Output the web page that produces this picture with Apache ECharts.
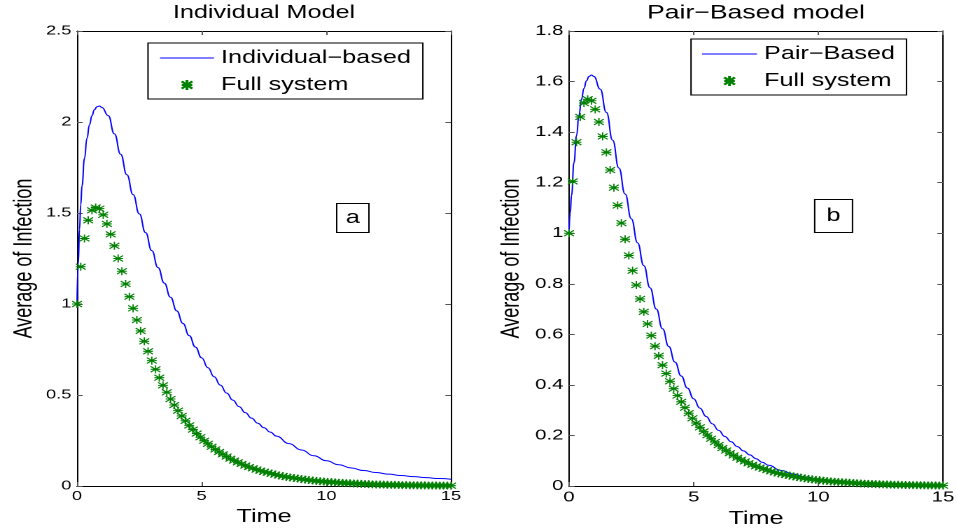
<!DOCTYPE html>
<html>
<head>
<meta charset="utf-8">
<title>Average of Infection</title>
<script src="https://cdn.jsdelivr.net/npm/echarts@6/dist/echarts.min.js"></script>
<style>
  html, body { margin: 0; background: #ffffff; }
  /* the figure is stretched sideways, so draw narrow and widen it */
  #chart { width: 684px; height: 531px; transform: scaleX(1.4); transform-origin: 0 0; }
</style>
</head>
<body>
<div id="chart"></div>
<script>
// full system (same ODE output in both panels)
const fullTime = [
  0, 0.15, 0.3, 0.45, 0.6, 0.75, 0.9, 1.05, 1.2, 1.35,
  1.5, 1.65, 1.8, 1.95, 2.1, 2.25, 2.4, 2.55, 2.7, 2.85,
  3, 3.15, 3.3, 3.45, 3.6, 3.75, 3.9, 4.05, 4.2, 4.35,
  4.5, 4.65, 4.8, 4.95, 5.1, 5.25, 5.4, 5.55, 5.7, 5.85,
  6, 6.15, 6.3, 6.45, 6.6, 6.75, 6.9, 7.05, 7.2, 7.35,
  7.5, 7.65, 7.8, 7.95, 8.1, 8.25, 8.4, 8.55, 8.7, 8.85,
  9, 9.15, 9.3, 9.45, 9.6, 9.75, 9.9, 10.05, 10.2, 10.35,
  10.5, 10.65, 10.8, 10.95, 11.1, 11.25, 11.4, 11.55, 11.7, 11.85,
  12, 12.15, 12.3, 12.45, 12.6, 12.75, 12.9, 13.05, 13.2, 13.35,
  13.5, 13.65, 13.8, 13.95, 14.1, 14.25, 14.4, 14.55, 14.7, 14.85,
  15
];
const fullValue = [
  1.000, 1.205, 1.360, 1.460, 1.515, 1.530, 1.524, 1.490, 1.440, 1.383,
  1.320, 1.250, 1.180, 1.110, 1.040, 0.976, 0.912, 0.852, 0.795, 0.740,
  0.689, 0.641, 0.595, 0.553, 0.515, 0.478, 0.445, 0.414, 0.385, 0.358,
  0.333, 0.310, 0.288, 0.268, 0.249, 0.232, 0.216, 0.201, 0.187, 0.174,
  0.162, 0.150, 0.140, 0.130, 0.121, 0.112, 0.104, 0.097, 0.090, 0.084,
  0.078, 0.073, 0.068, 0.063, 0.058, 0.054, 0.050, 0.047, 0.044, 0.041,
  0.038, 0.035, 0.033, 0.030, 0.028, 0.026, 0.024, 0.023, 0.021, 0.020,
  0.018, 0.017, 0.016, 0.015, 0.014, 0.013, 0.012, 0.011, 0.010, 0.009,
  0.0085, 0.008, 0.0075, 0.007, 0.0065, 0.006, 0.0055, 0.005, 0.0047, 0.0044,
  0.004, 0.0037, 0.0035, 0.0032, 0.003, 0.0028, 0.0026, 0.0024, 0.0022, 0.002,
  0.0019
];

// individual-based model
const indTime = [
  0, 0.05, 0.1, 0.15, 0.2, 0.3, 0.4, 0.5, 0.6, 0.7, 0.8, 0.9,
  1.0, 1.25, 1.5, 1.75, 2.0, 2.25, 2.5, 2.75, 3.0, 3.25, 3.5, 3.75,
  4.0, 4.25, 4.5, 4.75, 5.0, 5.25, 5.5, 5.75, 6.0, 6.25, 6.5, 6.75,
  7.0, 7.25, 7.5, 7.75, 8.0, 8.5, 9.0, 9.5, 10.0, 10.5, 11.0, 11.5,
  12.0, 12.5, 13.0, 13.5, 14.0, 14.5, 15.0
];
const indValue = [
  1.0, 1.22, 1.41, 1.545, 1.65, 1.80, 1.91, 1.985, 2.035, 2.068, 2.084, 2.088,
  2.080, 2.035, 1.935, 1.823, 1.71, 1.601, 1.495, 1.392, 1.293, 1.2, 1.115, 1.037,
  0.962, 0.893, 0.826, 0.763, 0.704, 0.65, 0.6, 0.554, 0.511, 0.472, 0.436, 0.403,
  0.373, 0.345, 0.32, 0.296, 0.274, 0.233, 0.198, 0.166, 0.139, 0.117, 0.099, 0.085,
  0.074, 0.065, 0.0575, 0.0515, 0.046, 0.041, 0.037
];

// pair-based model
const pairTime = [
  0, 0.05, 0.1, 0.2, 0.3, 0.4, 0.5, 0.6, 0.7, 0.8, 0.9,
  1.0, 1.25, 1.5, 1.75, 2.0, 2.25, 2.5, 2.75, 3.0, 3.25, 3.5, 3.75,
  4.0, 4.25, 4.5, 4.75, 5.0, 5.25, 5.5, 5.75, 6.0, 6.25, 6.5, 6.75,
  7.0, 7.25, 7.5, 7.75, 8.0, 8.5, 9.0, 9.5, 10.0, 10.5, 11.0, 11.5,
  12.0, 12.5, 13.0, 13.5, 14.0, 14.5, 15.0
];
const pairValue = [
  1.0, 1.08, 1.15, 1.28, 1.385, 1.467, 1.53, 1.573, 1.603, 1.62, 1.626,
  1.62, 1.57, 1.478, 1.368, 1.258, 1.155, 1.057, 0.962, 0.872, 0.784, 0.700, 0.622,
  0.552, 0.49, 0.435, 0.387, 0.345, 0.308, 0.275, 0.246, 0.22, 0.196, 0.175, 0.156,
  0.139, 0.123, 0.108, 0.094, 0.082, 0.062, 0.047, 0.036, 0.028, 0.022, 0.017, 0.0135,
  0.0107, 0.0085, 0.0068, 0.0054, 0.0043, 0.0034, 0.0027
];

const timeTicks = { min: 0, max: 15, interval: 5 };
const leftY = { min: 0, max: 2.5, interval: 0.5 };
const rightY = { min: 0, max: 1.8, interval: 0.2 };

const SX = 1.4;
const px = (v) => v / SX;   // picture x -> chart x
const FONT = 'Liberation Sans, Arial, sans-serif';
const STAR = 'path://M0,-5L0,5M-3.8,0L3.8,0M-3.8,-3.6L3.8,3.6M-3.8,3.6L3.8,-3.6';
const DASH = 'path://M0,0H40V1H0Z';

function zip(xs, ys) {
  return xs.map((x, i) => [x, ys[i]]);
}

function xAxes(gridIndex, fontSize) {
  const common = {
    gridIndex: gridIndex,
    type: 'value',
    ...timeTicks,
    splitLine: { show: false },
    axisLine: { onZero: false, lineStyle: { color: '#000', width: 1 } },
    axisTick: { inside: true, length: 4, lineStyle: { color: '#555' } }
  };
  return [
    {
      ...common,
      position: 'bottom',
      name: 'Time',
      nameLocation: 'middle',
      nameGap: 19,
      nameTextStyle: { fontSize: 18, color: '#000', fontFamily: FONT },
      axisLabel: { fontSize: fontSize, color: '#000', margin: 4, fontFamily: FONT }
    },
    { ...common, position: 'top', axisLabel: { show: false } }
  ];
}

function yAxes(gridIndex, range, fontSize, nameGap) {
  const common = {
    gridIndex: gridIndex,
    type: 'value',
    ...range,
    splitLine: { show: false },
    axisLine: { show: true, onZero: false, lineStyle: { color: '#000', width: 1 } },
    axisTick: { show: true, inside: true, length: 4, lineStyle: { color: '#555' } }
  };
  return [
    {
      ...common,
      position: 'left',
      name: 'Average of Infection',
      nameLocation: 'middle',
      nameGap: nameGap,
      nameTextStyle: { fontSize: 18, color: '#000', fontFamily: FONT },
      axisLabel: { fontSize: fontSize, color: '#000', margin: 4, fontFamily: FONT }
    },
    { ...common, position: 'right', axisLabel: { show: false } }
  ];
}

function lineSeries(name, axis, data) {
  return {
    name: name,
    type: 'line',
    xAxisIndex: axis,
    yAxisIndex: axis,
    data: data,
    symbol: 'none',
    smooth: true,
    smoothMonotone: 'x',
    lineStyle: { color: '#0000ff', width: 1 },
    itemStyle: { color: '#0000ff' },
    z: 2
  };
}

function starSeries(axis) {
  return {
    name: 'Full system',
    type: 'scatter',
    xAxisIndex: axis,
    yAxisIndex: axis,
    data: zip(fullTime, fullValue),
    symbol: STAR,
    symbolSize: [7, 8],
    itemStyle: { color: 'transparent', borderColor: '#008000', borderWidth: 1, opacity: 1 },
    z: 3
  };
}

function legendBox(left, top, itemWidth, padding, lineName) {
  return {
    orient: 'vertical',
    left: left,
    top: top,
    padding: padding,
    itemWidth: itemWidth,
    itemHeight: 10,
    itemGap: 9,
    symbolKeepAspect: true,
    selectedMode: false,
    borderColor: '#000',
    borderWidth: 1,
    backgroundColor: '#fff',
    textStyle: { fontSize: 18, lineHeight: 18, color: '#000', fontFamily: FONT },
    data: [{ name: lineName, icon: DASH }, 'Full system']
  };
}

function panelTitle(text, center, size) {
  return {
    text: text,
    left: center,
    top: 4,
    padding: 0,
    textAlign: 'center',
    textStyle: { fontSize: size, fontWeight: 'normal', color: '#000', fontFamily: FONT }
  };
}

function tagBox(text, left, top, padding) {
  return {
    text: text,
    left: left,
    top: top,
    padding: padding,
    textAlign: 'left',
    borderColor: '#000',
    borderWidth: 1,
    textStyle: { fontSize: 18, lineHeight: 18, fontWeight: 'normal', color: '#000', fontFamily: FONT }
  };
}

// render at 2x so the sideways stretch stays smooth
const chart = echarts.init(document.getElementById('chart'), null, { devicePixelRatio: 2 });
chart.setOption({
  animation: false,
  backgroundColor: '#ffffff',
  title: [
    panelTitle('Individual Model', px(264), 18),
    panelTitle('Pair−Based model', px(756), 19),
    tagBox('a', px(336), 203, [6, 7]),
    tagBox('b', px(814), 199, [8, 9])
  ],
  legend: [
    legendBox(px(148), 43, px(54), [6, px(12), 5, px(12)], 'Individual−based'),
    legendBox(px(691), 39, px(55), [6, px(11.5), 5, px(11)], 'Pair−Based')
  ],
  grid: [
    { left: px(77), top: 31, width: px(374), height: 455, containLabel: false, outerBoundsMode: 'none' },
    { left: px(569), top: 31, width: px(374), height: 455, containLabel: false, outerBoundsMode: 'none' }
  ],
  xAxis: [...xAxes(0, 13), ...xAxes(1, 14.5)],
  yAxis: [...yAxes(0, leftY, 13, px(40)), ...yAxes(1, rightY, 14.5, px(45))],
  series: [
    lineSeries('Individual−based', 0, zip(indTime, indValue)),
    starSeries(0),
    lineSeries('Pair−Based', 2, zip(pairTime, pairValue)),
    starSeries(2)
  ]
});
</script>
</body>
</html>
